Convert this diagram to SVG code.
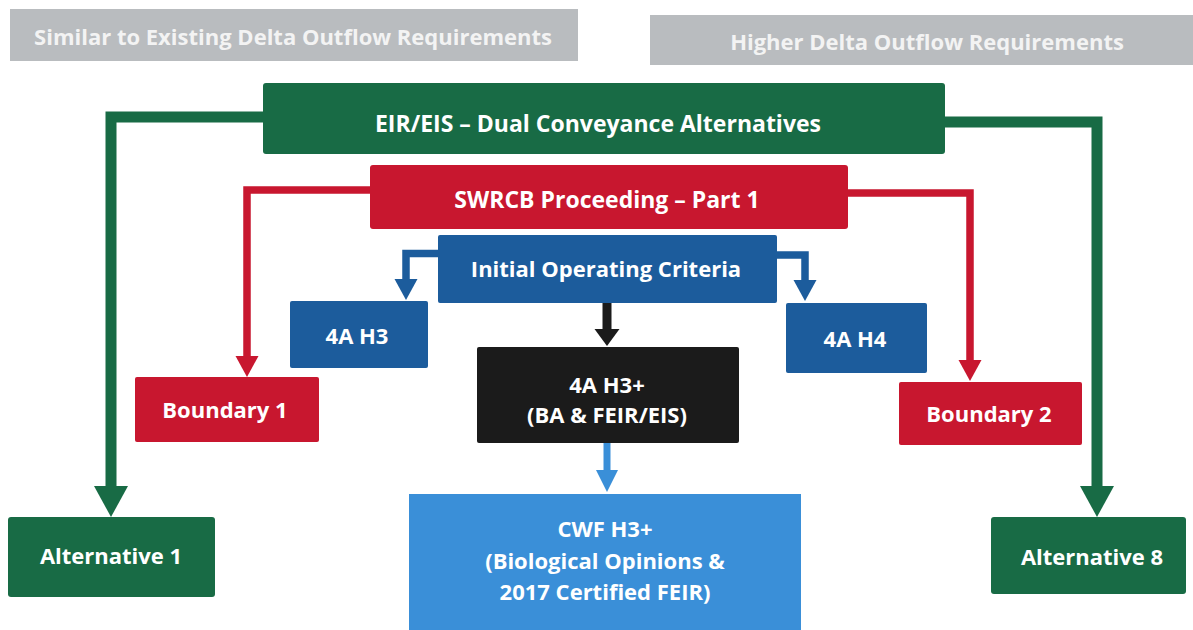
<svg xmlns="http://www.w3.org/2000/svg" width="1193" height="630" viewBox="0 0 1193 630">
<style>
text{font-family:"Open Sans","Liberation Sans",Arial,sans-serif;font-weight:700;fill:#ffffff;text-anchor:middle}
.hdr{fill:#b9bcbf}
.hdrt{fill:#f3f3f3;font-size:22px}
.green{fill:#186b45}
.red{fill:#c8172f}
.blue{fill:#1c5c9c}
.black{fill:#1b1b1b}
.lblue{fill:#3a8fd8}
.t{font-size:22px}
.tl{font-size:23px}
.c{fill:none;stroke-linejoin:miter}
</style>
<defs>
<marker id="ag" markerUnits="userSpaceOnUse" markerWidth="32" markerHeight="36" refX="1" refY="17" orient="auto" viewBox="0 0 32 34"><path d="M0,0 L31,17 L0,34 Z" fill="#186b45"/></marker>
<marker id="ar" markerUnits="userSpaceOnUse" markerWidth="22" markerHeight="24" refX="1" refY="11.5" orient="auto" viewBox="0 0 22 23"><path d="M0,0 L21,11.5 L0,23 Z" fill="#c8172f"/></marker>
<marker id="ab" markerUnits="userSpaceOnUse" markerWidth="22" markerHeight="24" refX="1" refY="11.5" orient="auto" viewBox="0 0 22 23"><path d="M0,0 L21,11.5 L0,23 Z" fill="#1c5c9c"/></marker>
<marker id="ak" markerUnits="userSpaceOnUse" markerWidth="18" markerHeight="26" refX="1" refY="12.5" orient="auto" viewBox="0 0 18 25"><path d="M0,0 L17,12.5 L0,25 Z" fill="#1b1b1b"/></marker>
<marker id="al" markerUnits="userSpaceOnUse" markerWidth="24" markerHeight="24" refX="1" refY="11" orient="auto" viewBox="0 0 24 22"><path d="M0,0 L22,11 L0,22 Z" fill="#3a8fd8"/></marker>
</defs>
<rect width="1193" height="630" fill="#ffffff"/>

<g id="connectors">
<path class="c" d="M265,117 H111 V487" stroke="#186b45" stroke-width="11" marker-end="url(#ag)"/>
<path class="c" d="M943,122 H1097 V487" stroke="#186b45" stroke-width="11" marker-end="url(#ag)"/>
<path class="c" d="M372,190 H247 V357" stroke="#c8172f" stroke-width="7.5" marker-end="url(#ar)"/>
<path class="c" d="M845,193 H970 V361" stroke="#c8172f" stroke-width="7.5" marker-end="url(#ar)"/>
<path class="c" d="M440,253.5 H406 V280" stroke="#1c5c9c" stroke-width="7.5" marker-end="url(#ab)"/>
<path class="c" d="M775,255 H805 V281" stroke="#1c5c9c" stroke-width="7.5" marker-end="url(#ab)"/>
<path class="c" d="M607,303 V330" stroke="#1b1b1b" stroke-width="9" marker-end="url(#ak)"/>
<path class="c" d="M607,443 V471" stroke="#3a8fd8" stroke-width="7" marker-end="url(#al)"/>
</g>

<g id="hdr-similar">
<rect class="hdr" x="10" y="9" width="568" height="52"/>
<text class="hdrt" x="293" y="45">Similar to Existing Delta Outflow Requirements</text>
</g>
<g id="hdr-higher">
<rect class="hdr" x="650" y="15" width="543" height="50"/>
<text class="hdrt" x="927" y="50">Higher Delta Outflow Requirements</text>
</g>

<g id="eir">
<rect class="green" x="263" y="83" width="682" height="71" rx="3"/>
<text class="tl" x="598" y="132">EIR/EIS – Dual Conveyance Alternatives</text>
</g>
<g id="swrcb">
<rect class="red" x="370" y="165" width="478" height="64" rx="3"/>
<text class="tl" x="607" y="208">SWRCB Proceeding – Part 1</text>
</g>
<g id="ioc">
<rect class="blue" x="438" y="235" width="339" height="68" rx="2"/>
<text class="t" x="606" y="277">Initial Operating Criteria</text>
</g>
<g id="h3">
<rect class="blue" x="290" y="301" width="138" height="67" rx="2"/>
<text class="t" x="357" y="344">4A H3</text>
</g>
<g id="h4">
<rect class="blue" x="786" y="303" width="141" height="70" rx="2"/>
<text class="t" x="855" y="347">4A H4</text>
</g>
<g id="h3plus">
<rect class="black" x="477" y="347" width="262" height="96" rx="2"/>
<text class="t" x="607" y="393">4A H3+</text>
<text class="t" x="607" y="423">(BA &amp; FEIR/EIS)</text>
</g>
<g id="boundary1">
<rect class="red" x="135" y="377" width="184" height="65" rx="2"/>
<text class="t" x="225" y="418">Boundary 1</text>
</g>
<g id="boundary2">
<rect class="red" x="899" y="382" width="183" height="63" rx="2"/>
<text class="t" x="989" y="422">Boundary 2</text>
</g>
<g id="cwf">
<rect class="lblue" x="409" y="494" width="392" height="136"/>
<text class="t" x="605" y="537">CWF H3+</text>
<text class="t" x="605" y="569">(Biological Opinions &amp;</text>
<text class="t" x="605" y="600">2017 Certified FEIR)</text>
</g>
<g id="alt1">
<rect class="green" x="8" y="517" width="207" height="80" rx="3"/>
<text class="t" x="111" y="564">Alternative 1</text>
</g>
<g id="alt8">
<rect class="green" x="991" y="517" width="195" height="77" rx="3"/>
<text class="t" x="1092" y="565">Alternative 8</text>
</g>
</svg>
